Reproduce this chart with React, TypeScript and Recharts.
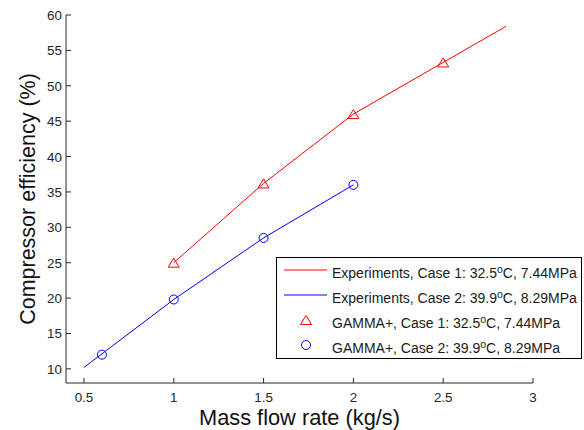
import { ComposedChart, Line, Scatter, XAxis, YAxis } from "recharts";

const xTicks = [0.5, 1, 1.5, 2, 2.5, 3];
const yTicks = [10, 15, 20, 25, 30, 35, 40, 45, 50, 55, 60];

// Experiments (lines)
const exp1Flow = [1, 1.5, 2, 2.5, 2.85];
const exp1Eff = [25.0, 36.2, 46.0, 53.3, 58.4];
const exp2Flow = [0.5, 1, 1.5, 2];
const exp2Eff = [10.2, 19.8, 28.5, 36.0];

// GAMMA+ (markers)
const gamma1Flow = [1, 1.5, 2, 2.5];
const gamma1Eff = [25.0, 36.2, 46.0, 53.3];
const gamma2Flow = [0.6, 1, 1.5, 2];
const gamma2Eff = [12.0, 19.8, 28.5, 36.0];

const toPoints = (xs: number[], ys: number[]) => xs.map((x, i) => ({ x, y: ys[i] }));

const exp1 = toPoints(exp1Flow, exp1Eff);
const exp2 = toPoints(exp2Flow, exp2Eff);
const gamma1 = toPoints(gamma1Flow, gamma1Eff);
const gamma2 = toPoints(gamma2Flow, gamma2Eff);

const font = "'Liberation Sans', Arial, sans-serif";
const axisColor = "#262626";
const red = "#FF0000";
const blue = "#0000FF";

const XTick = ({ x, y, payload }: any) => (
  <g>
    <line x1={x} y1={y} x2={x} y2={y - 5} stroke={axisColor} />
    <text x={x} y={y + 19} textAnchor="middle" fontSize={13.4} fontFamily={font} fill={axisColor}>
      {payload.value}
    </text>
  </g>
);

const YTick = ({ x, y, payload }: any) => (
  <g>
    <line x1={x} y1={y} x2={x + 5} y2={y} stroke={axisColor} />
    <text x={x - 4} y={y + 5} textAnchor="end" fontSize={13.4} fontFamily={font} fill={axisColor}>
      {payload.value}
    </text>
  </g>
);

const Triangle = ({ cx, cy }: any) => (
  <polygon
    points={`${cx},${cy - 4.5} ${cx - 5.5},${cy + 4.5} ${cx + 5.5},${cy + 4.5}`}
    fill="none"
    stroke={red}
  />
);

const Circle = ({ cx, cy }: any) => <circle cx={cx} cy={cy} r={4.5} fill="none" stroke={blue} />;

const Deg = ({ t, rest }: { t: string; rest: string }) => (
  <>
    {t}
    <tspan dy={-5} fontSize={10.5}>o</tspan>
    <tspan dy={5}>{rest}</tspan>
  </>
);

function ChartLegend() {
  return (
    <svg
      width={306}
      height={102}
      style={{ position: "absolute", left: 276, top: 257, background: "#fff" }}
    >
      <rect x={0.5} y={0.5} width={305} height={101} fill="#fff" stroke="#000" />
      <g fontSize={14} fontFamily={font} fill="#1a1a1a">
        <line x1={8} y1={13} x2={51} y2={13} stroke={red} />
        <text x={56} y={21}>
          <Deg t="Experiments, Case 1: 32.5" rest="C, 7.44MPa" />
        </text>
        <line x1={8} y1={38} x2={51} y2={38} stroke={blue} />
        <text x={56} y={46}>
          <Deg t="Experiments, Case 2: 39.9" rest="C, 8.29MPa" />
        </text>
        <Triangle cx={30} cy={63} />
        <text x={56} y={71}>
          <Deg t="GAMMA+, Case 1: 32.5" rest="C, 7.44MPa" />
        </text>
        <Circle cx={30} cy={88} />
        <text x={56} y={95.5}>
          <Deg t="GAMMA+, Case 2: 39.9" rest="C, 8.29MPa" />
        </text>
      </g>
    </svg>
  );
}

export default function App() {
  return (
    <div style={{ position: "absolute", left: 0, top: 0, width: 584, height: 430, background: "#fff" }}>
      <ComposedChart width={584} height={430} margin={{ top: 15, right: 51, bottom: 0, left: 0 }}>
        <XAxis
          type="number"
          dataKey="x"
          domain={[0.4, 3]}
          ticks={xTicks}
          height={47}
          tickSize={0}
          tickMargin={0}
          tickLine={false}
          tick={<XTick />}
          stroke={axisColor}
          allowDataOverflow
          label={{
            value: "Mass flow rate (kg/s)",
            position: "insideBottom",
            offset: 5,
            style: { fontSize: 21.8, fontFamily: font, fill: "#111" },
          }}
        />
        <YAxis
          type="number"
          dataKey="y"
          domain={[8, 60]}
          ticks={yTicks}
          width={66}
          tickSize={0}
          tickMargin={0}
          tickLine={false}
          tick={<YTick />}
          stroke={axisColor}
          allowDataOverflow
          label={{
            value: "Compressor efficiency (%)",
            angle: -90,
            position: "insideLeft",
            offset: 27,
            style: { fontSize: 21.5, fontFamily: font, fill: "#111", textAnchor: "middle" },
          }}
        />
        <Line data={exp1} dataKey="y" stroke={red} strokeWidth={1} dot={false} isAnimationActive={false} />
        <Line data={exp2} dataKey="y" stroke={blue} strokeWidth={1} dot={false} isAnimationActive={false} />
        <Scatter data={gamma1} dataKey="y" shape={<Triangle />} isAnimationActive={false} />
        <Scatter data={gamma2} dataKey="y" shape={<Circle />} isAnimationActive={false} />
      </ComposedChart>
      <ChartLegend />
    </div>
  );
}
